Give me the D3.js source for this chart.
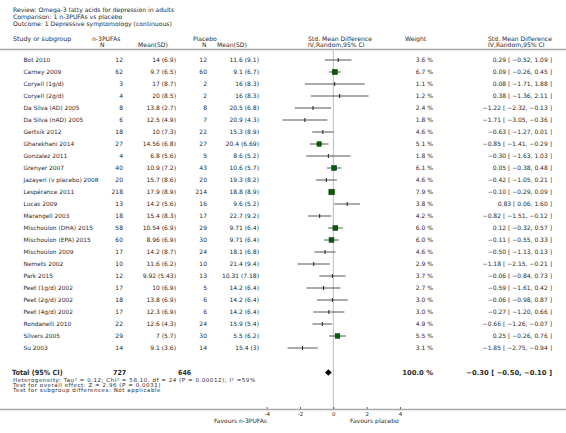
<!DOCTYPE html>
<html><head><meta charset="utf-8">
<script src="https://cdn.jsdelivr.net/npm/d3@7"></script>
<style>
body{margin:0;background:#fff;}
text{font-family:"DejaVu Sans",sans-serif;fill:#2a2a2a;}
.cond{font-family:"DejaVu Sans Condensed","DejaVu Sans",sans-serif;font-stretch:condensed;}
</style></head>
<body>
<script>
const studies = ["Bot 2010","Carney 2009","Coryell (1g/d)","Coryell (2g/d)","Da Silva (AD) 2005","Da Silva (nAD) 2005","Gertsik 2012","Gharekhani 2014","Gonzalez 2011","Grenyer 2007","Jazayeri (v placebo) 2008","Lespérance 2011","Lucas 2009","Marangell 2003","Mischoulon (DHA) 2015","Mischoulon (EPA) 2015","Mischoulon 2009","Nemets 2002","Park 2015","Peet (1g/d) 2002","Peet (2g/d) 2002","Peet (4g/d) 2002","Rondanelli 2010","Silvers 2005","Su 2003"];
const n1 = [12,62,3,4,8,6,18,27,4,40,20,218,13,18,58,60,17,10,12,17,18,17,22,29,14];
const msd1 = ["14 (6.9)","9.7 (6.5)","17 (8.7)","20 (8.5)","13.8 (2.7)","12.5 (4.9)","10 (7.3)","14.56 (6.8)","6.8 (5.6)","10.9 (7.2)","15.7 (8.6)","17.9 (8.9)","14.2 (5.6)","15.4 (8.3)","10.54 (6.9)","8.96 (6.9)","14.2 (8.7)","11.6 (6.2)","9.92 (5.43)","10 (6.9)","13.8 (6.9)","12.3 (6.9)","12.6 (4.3)","7 (5.7)","9.1 (3.6)"];
const n2 = [12,60,2,2,8,7,22,27,5,43,20,214,16,17,29,30,24,10,13,5,6,6,24,30,14];
const msd2 = ["11.6 (9.1)","9.1 (6.7)","16 (8.3)","16 (8.3)","20.5 (6.8)","20.9 (4.3)","15.3 (8.9)","20.4 (6.69)","8.6 (5.2)","10.6 (5.7)","19.3 (8.2)","18.8 (8.9)","9.6 (5.2)","22.7 (9.2)","9.71 (6.4)","9.71 (6.4)","18.1 (6.8)","21.4 (9.4)","10.31 (7.18)","14.2 (6.4)","14.2 (6.4)","14.2 (6.4)","15.9 (5.4)","5.5 (6.2)","15.4 (3)"];
const weight = [3.6,6.7,1.1,1.2,2.4,1.8,4.6,5.1,1.8,6.1,4.6,7.9,3.8,4.2,6.0,6.0,4.6,2.9,3.7,2.7,3.0,3.0,4.9,5.5,3.1];
const smd = [0.29,0.09,0.08,0.38,-1.22,-1.71,-0.63,-0.85,-0.30,0.05,-0.42,-0.10,0.83,-0.82,0.12,-0.11,-0.50,-1.18,-0.06,-0.59,-0.06,-0.27,-0.66,0.25,-1.85];
const lo = [-0.52,-0.26,-1.71,-1.36,-2.32,-3.05,-1.27,-1.41,-1.63,-0.38,-1.05,-0.29,0.06,-1.51,-0.32,-0.55,-1.13,-2.15,-0.84,-1.61,-0.98,-1.20,-1.26,-0.26,-2.75];
const hi = [1.09,0.45,1.88,2.11,-0.13,-0.36,0.01,-0.29,1.03,0.48,0.21,0.09,1.60,-0.12,0.57,0.33,0.13,-0.21,0.73,0.42,0.87,0.66,-0.07,0.76,-0.94];
const total = {n1:727, n2:646, weight:"100.0 %", est:-0.30, lo:-0.50, hi:-0.10};
const axisTicks = [-4,-2,0,2,4];
const headerLines = ["Review:  Omega-3 fatty acids for depression in adults","Comparison:  1 n-3PUFAs vs placebo","Outcome:  1 Depressive symptomology (continuous)"];
const footLines = ["Heterogeneity: Tau² = 0.12; Chi² = 58.10, df = 24 (P = 0.00012); I² =59%","Test for overall effect: Z = 2.96 (P = 0.0031)","Test for subgroup differences: Not applicable"];

const W=566,H=433;
const svg=d3.select("body").append("svg").attr("width",W).attr("height",H);
const x=d3.scaleLinear().domain([-4,4]).range([266.7,400]);
const y=d3.scalePoint().domain(d3.range(studies.length)).range([60,348]);
const sz=d3.scaleSqrt().domain([0,10]).range([0,6.3]);
const fs=6;
const fmt=d3.format(".2f");
const t=(s,xx,yy,anchor,opt={})=>{
  const e=svg.append("text").attr("x",xx).attr("y",yy).attr("text-anchor",anchor||"start")
  .style("font-size",(opt.size||fs)+"px").style("font-weight",opt.bold?"bold":"normal").text(s);
  if(opt.cls) e.attr("class",opt.cls);
  if(opt.ls) e.style("letter-spacing",opt.ls+"px");
  return e;
};

headerLines.forEach((s,i)=>t(s,13,12+i*7,"start",{size:6.1}));
t("Study or subgroup",13,41,"start",{size:6.3});
t("n-3PUFAs",92,41,"start",{size:6.1});
t("N",100,46.5,"start",{size:6.1});
t("Mean(SD)",138,46.5,"start",{size:6.1});
t("Placebo",193,41,"start",{size:6.1});
t("N",202,46.5,"start",{size:6.1});
t("Mean(SD)",217,46.5,"start",{size:6.1});
t("Std. Mean Difference",308,41,"start",{size:6.1});
t("IV,Random,95% CI",308,46.5,"start",{size:6.1});
t("Weight",405,41,"start",{size:6.1});
t("Std. Mean Difference",488,41,"start",{size:6.1});
t("IV,Random,95% CI",488,46.5,"start",{size:6.1});

svg.append("line").attr("x1",0).attr("x2",W).attr("y1",49.5).attr("y2",49.5).attr("stroke","#a8a8a8").attr("stroke-width",1.5);
svg.append("line").attr("x1",x(0)).attr("x2",x(0)).attr("y1",50).attr("y2",409).attr("stroke","#bdbdbd").attr("stroke-width",1);

studies.forEach((s,i)=>{
  const yy=y(i), by=yy+2;
  t(s,23.5,by,"start",{size:5.9});
  t(n1[i],123,by,"end");
  t(msd1[i],176,by,"end");
  t(n2[i],207,by,"end");
  t(msd2[i],259,by,"end");
  t(weight[i].toFixed(1)+" %",433,by,"end");
  t(fmt(smd[i])+" [ "+fmt(lo[i])+", "+fmt(hi[i])+" ]",552,by,"end");
  svg.append("line").attr("x1",x(lo[i])).attr("x2",x(hi[i])).attr("y1",yy).attr("y2",yy).attr("stroke","#444").attr("stroke-width",0.9);
  if(weight[i]>=5){
    const s2=sz(weight[i]);
    svg.append("rect").attr("x",x(smd[i])-s2/2).attr("y",yy-s2/2).attr("width",s2).attr("height",s2).attr("fill","#0a5a0a").attr("stroke","#063806").attr("stroke-width",0.5);
  } else {
    svg.append("line").attr("x1",x(smd[i])).attr("x2",x(smd[i])).attr("y1",yy-2).attr("y2",yy+2).attr("stroke","#222").attr("stroke-width",1);
  }
});

const ty=372.5;
t("Total (95% CI)",12,ty+2.5,"start",{size:7.2,bold:true,cls:"cond"});
t(total.n1,113,ty+2.5,"start",{size:7,bold:true,cls:"cond"});
t(total.n2,178,ty+2.5,"start",{size:7,bold:true,cls:"cond"});
t(total.weight,433,ty+2.5,"end",{size:6.8,bold:true});
t(fmt(total.est)+" [ "+fmt(total.lo)+", "+fmt(total.hi)+" ]",552,ty+2.5,"end",{size:6.8,bold:true});
const dh=3.2;
svg.append("path").attr("d",`M${x(total.lo)},${ty} L${x(total.est)},${ty-dh} L${x(total.hi)},${ty} L${x(total.est)},${ty+dh} Z`).attr("fill","#000");
footLines.forEach((s,i)=>t(s,13,381.8+i*5.2,"start",{size:5.5,ls:0.55}));

svg.append("line").attr("x1",0).attr("x2",W).attr("y1",409.5).attr("y2",409.5).attr("stroke","#a8a8a8").attr("stroke-width",1.6);
const ax=svg.append("g").attr("transform","translate(0,409)").call(d3.axisTop(x).tickValues(axisTicks).tickSize(2).tickFormat(d=>d));
ax.select(".domain").remove();
ax.selectAll(".tick line").attr("stroke","#666");
ax.selectAll(".tick text").attr("y",7).attr("dy",0).style("font-size","5.5px").style("font-family","DejaVu Sans").attr("fill","#333");
t("Favours n-3PUFAs",267,422.5,"end",{size:6});
t("Favours placebo",350,422.5,"start",{size:6});
</script>
</body></html>
